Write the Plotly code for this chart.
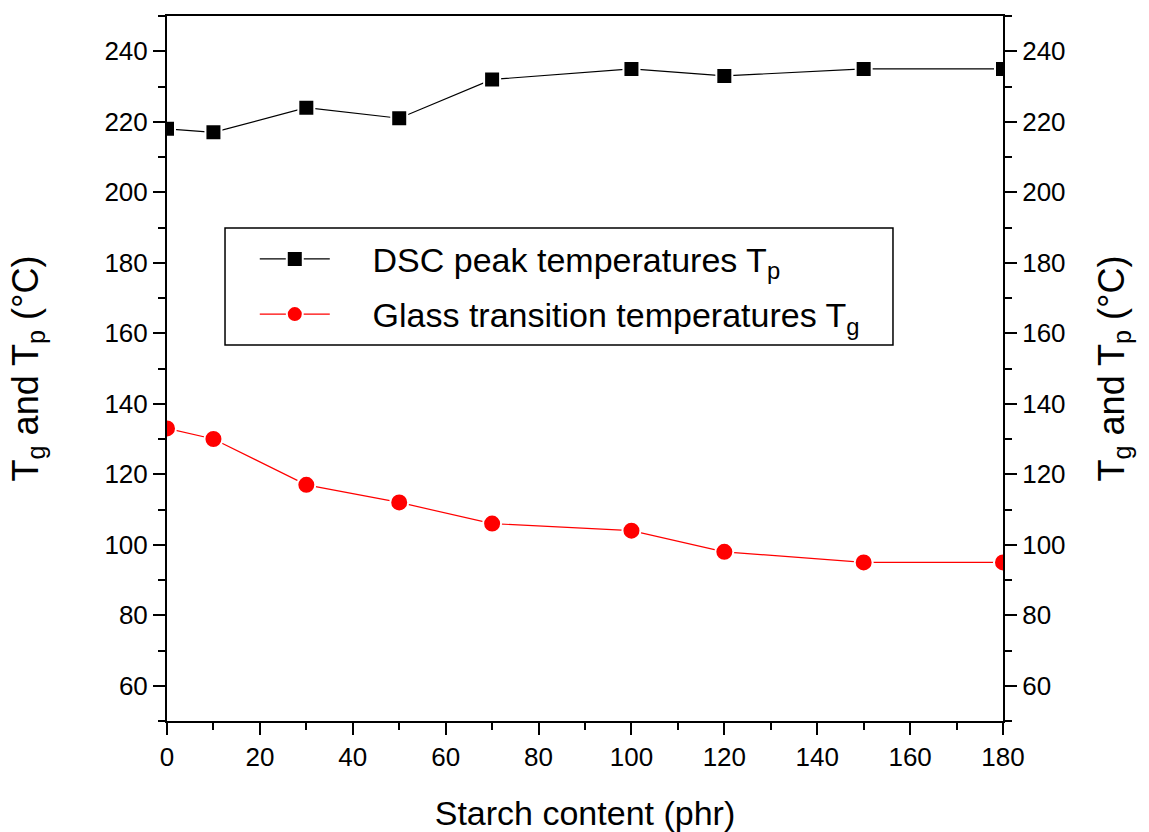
import plotly.graph_objects as go

starch = [0, 10, 30, 50, 70, 100, 120, 150, 180]
tp_vals = [218, 217, 224, 221, 232, 235, 233, 235, 235]
tg_vals = [133, 130, 117, 112, 106, 104, 98, 95, 95]

x_ticks = list(range(0, 181, 20))
y_ticks = list(range(60, 241, 20))

FONT = "Liberation Sans, Arial, sans-serif"

fig = go.Figure()
fig.add_trace(go.Scatter(
    x=starch, y=tp_vals, mode="lines+markers",
    name="&nbsp;&nbsp;&nbsp;&nbsp;DSC peak temperatures T<sub>p</sub>",
    legendgroup="tp",
    line=dict(color="black", width=1.2),
    marker=dict(symbol="square", size=16, color="black",
                line=dict(color="white", width=2)),
))
fig.add_trace(go.Scatter(
    x=starch, y=tg_vals, mode="lines+markers",
    name="&nbsp;&nbsp;&nbsp;&nbsp;Glass transition temperatures T<sub>g</sub>",
    legendgroup="tg",
    line=dict(color="red", width=1.2),
    marker=dict(symbol="circle", size=18, color="red",
                line=dict(color="white", width=2)),
))
# helper trace so the right-hand axis is drawn
fig.add_trace(go.Scatter(
    x=starch, y=tp_vals, yaxis="y2", mode="lines",
    line=dict(width=0, color="rgba(0,0,0,0)"),
    showlegend=False, hoverinfo="skip",
))

axis_common = dict(
    showline=True, linecolor="black", linewidth=2,
    ticks="outside", ticklen=12, tickwidth=2, tickcolor="black",
    showgrid=False, zeroline=False, automargin=False,
    tickfont=dict(family=FONT, size=26, color="black"),
)
minor_common = dict(dtick=10, ticks="outside", ticklen=7, tickwidth=2, tickcolor="black")
ytitle = "T<sub>g</sub> and T<sub>p</sub> (°C)"

fig.update_layout(
    width=1149, height=832,
    margin=dict(l=167, r=146, t=16, b=111, autoexpand=False),
    paper_bgcolor="white", plot_bgcolor="white",
    font=dict(family=FONT, color="black"),
    xaxis=dict(
        range=[0, 180], tickvals=x_ticks, mirror=True,
        minor=minor_common,
        title=dict(text="Starch content (phr)", font=dict(family=FONT, size=34), standoff=34),
        **axis_common,
    ),
    yaxis=dict(
        range=[50, 250], tickvals=y_ticks, mirror=True,
        minor=minor_common,
        title=dict(text=ytitle, font=dict(family=FONT, size=36), standoff=55),
        **axis_common,
    ),
    yaxis2=dict(
        range=[50, 250], tickvals=y_ticks, overlaying="y", side="right",
        minor=minor_common,
        title=dict(text=ytitle, font=dict(family=FONT, size=36), standoff=34),
        **axis_common,
    ),
    legend=dict(
        x=0.105, y=0.696, xanchor="left", yanchor="top",
        borderwidth=0, bgcolor="rgba(0,0,0,0)",
        font=dict(family=FONT, size=34, color="black"),
        itemwidth=70, tracegroupgap=8, traceorder="grouped",
    ),
    shapes=[dict(
        type="rect", xref="paper", yref="paper",
        x0=0.0694, x1=0.8684, y0=0.5333, y1=0.6993,
        line=dict(color="black", width=1.5), fillcolor="white", layer="above",
    )],
    showlegend=True,
)

fig.write_html("out.html")
